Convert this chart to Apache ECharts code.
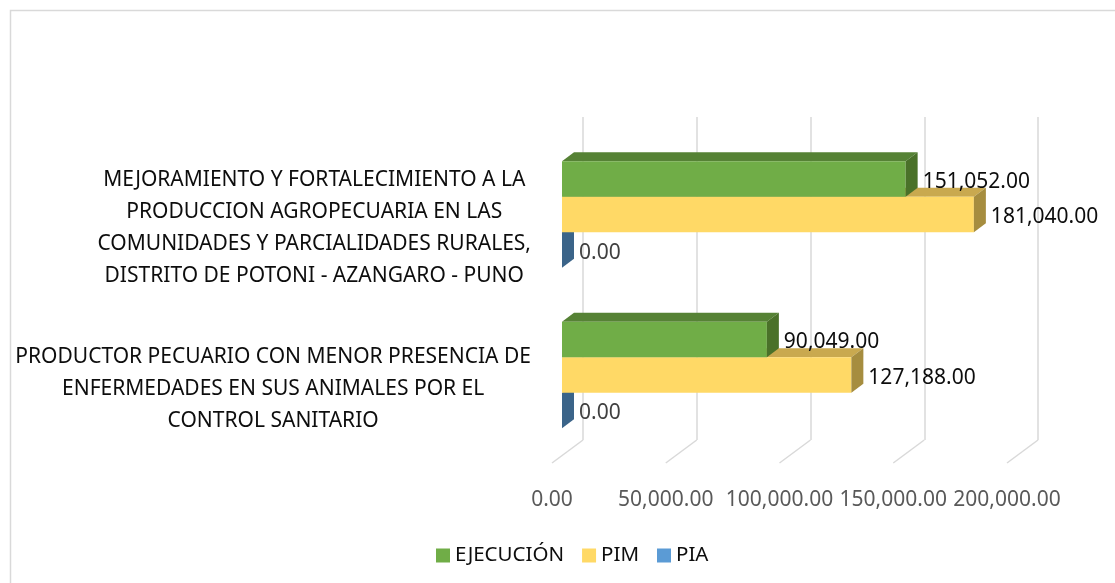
<!DOCTYPE html>
<html>
<head>
<meta charset="utf-8">
<script src="https://cdn.jsdelivr.net/npm/echarts@6/dist/echarts.min.js"></script>
<style>
  html, body { margin: 0; padding: 0; background: #fff; }
  #chart { width: 1115px; height: 583px; }
</style>
</head>
<body>
<div id="chart"></div>
<script>
// datos del grafico
const categories = [
  'MEJORAMIENTO Y FORTALECIMIENTO A LA\nPRODUCCION AGROPECUARIA EN LAS\nCOMUNIDADES Y PARCIALIDADES RURALES,\nDISTRITO DE POTONI - AZANGARO - PUNO',
  'PRODUCTOR PECUARIO CON MENOR PRESENCIA DE\nENFERMEDADES EN SUS ANIMALES POR EL\nCONTROL SANITARIO'
]
const ejecucion = [151052, 90049]
const pim = [181040, 127188]
const pia = [0, 0]
const xTicks = [0, 50000, 100000, 150000, 200000]

const FONT = 'Noto Sans'
const fmt = v => v.toLocaleString('en-US', { minimumFractionDigits: 2, maximumFractionDigits: 2 })

// barra 3D: cara frontal, superior y lateral
function bar3d(slot, colors, labelColor) {
  return function (params, api) {
    const cat = api.value(1)
    const val = api.value(0)
    const c0 = api.coord([0, cat])
    const c1 = api.coord([val, cat])
    const h = 35.5, dx = 12, dy = -9, shift = -21
    const x0 = c0[0] + shift
    const x1 = c1[0] + shift
    const y = c0[1] - h * 1.5 + slot * h
    const children = []
    if (x1 - x0 > 0.5) {
      children.push({
        type: 'polygon',
        shape: { points: [[x0, y], [x1, y], [x1 + dx, y + dy], [x0 + dx, y + dy]] },
        style: { fill: colors[1] }
      })
      children.push({
        type: 'rect',
        shape: { x: x0, y: y, width: x1 - x0, height: h },
        style: { fill: colors[0] }
      })
    }
    children.push({
      type: 'polygon',
      shape: { points: [[x1, y], [x1 + dx, y + dy], [x1 + dx, y + h + dy], [x1, y + h]] },
      style: { fill: colors[2] }
    })
    children.push({
      type: 'text',
      style: {
        x: x1 + dx + 5,
        y: y + h / 2 + 3,
        text: fmt(val),
        fill: labelColor,
        font: '21px "' + FONT + '"',
        textAlign: 'left',
        textVerticalAlign: 'middle'
      }
    })
    return { type: 'group', children: children }
  }
}

const chart = echarts.init(document.getElementById('chart'))

const option = {
  backgroundColor: '#fff',
  animation: false,
  textStyle: { fontFamily: FONT },
  graphic: [{
    type: 'rect',
    shape: { x: 10.5, y: 10.5, width: 1200, height: 700 },
    style: { fill: 'none', stroke: '#d9d9d9', lineWidth: 1.5 },
    silent: true
  }],
  legend: {
    data: ['EJECUCIÓN', 'PIM', 'PIA'],
    left: 431,
    top: 540,
    icon: 'rect',
    itemWidth: 14,
    itemHeight: 14,
    itemGap: 18,
    textStyle: { fontFamily: FONT, fontSize: 20.5, color: '#0d0d0d' }
  },
  grid: [
    { left: 583, width: 455, top: 117, height: 323 },
    { left: 583, width: 455, top: 134.25, height: 321 },
    { left: 552, width: 455, top: 147.7, height: 321.2 }
  ],
  xAxis: [
    {
      gridIndex: 0, type: 'value', min: 0, max: 200000, interval: 50000,
      axisLine: { show: false }, axisTick: { show: false }, axisLabel: { show: false },
      splitLine: { lineStyle: { color: '#d9d9d9', width: 1.5 } }
    },
    {
      gridIndex: 1, type: 'value', min: 0, max: 200000, interval: 50000, show: false
    },
    {
      gridIndex: 2, type: 'value', min: 0, max: 200000, interval: 50000,
      axisLine: { show: false }, axisTick: { show: false }, splitLine: { show: false },
      axisLabel: {
        margin: 21, fontSize: 21, fontFamily: FONT, color: '#595959',
        formatter: v => fmt(v)
      }
    }
  ],
  yAxis: [
    { gridIndex: 0, type: 'category', data: categories, inverse: true, show: false },
    { gridIndex: 1, type: 'category', data: categories, inverse: true, show: false },
    {
      gridIndex: 2, type: 'category', data: categories, inverse: true,
      axisLine: { show: false }, axisTick: { show: false }, splitLine: { show: false },
      axisLabel: {
        margin: 21,
        align: 'right',
        formatter: v => '{c|' + v + '}',
        rich: {
          c: { fontSize: 21, fontFamily: FONT, color: '#0d0d0d', lineHeight: 32, align: 'center' }
        }
      }
    }
  ],
  series: [
    {
      // piso del grafico
      type: 'custom',
      xAxisIndex: 0,
      yAxisIndex: 0,
      silent: true,
      z: 1,
      data: xTicks.map(v => [v, 0]),
      renderItem: function (params, api) {
        const cs = params.coordSys
        const p = api.coord([api.value(0), 0])
        const yb = cs.y + cs.height
        return {
          type: 'line',
          shape: { x1: p[0], y1: yb, x2: p[0] - 31, y2: yb + 23 },
          style: { stroke: '#d9d9d9', lineWidth: 1.5 }
        }
      }
    },
    {
      name: 'EJECUCIÓN',
      type: 'custom',
      xAxisIndex: 1,
      yAxisIndex: 1,
      z: 5,
      itemStyle: { color: '#70ad47' },
      data: ejecucion.map((v, i) => [v, i]),
      renderItem: bar3d(0, ['#70ad47', '#568235', '#4a7129'], '#0d0d0d')
    },
    {
      name: 'PIM',
      type: 'custom',
      xAxisIndex: 1,
      yAxisIndex: 1,
      z: 4,
      itemStyle: { color: '#ffd966' },
      data: pim.map((v, i) => [v, i]),
      renderItem: bar3d(1, ['#ffd966', '#c9a94f', '#a68d3f'], '#0d0d0d')
    },
    {
      name: 'PIA',
      type: 'custom',
      xAxisIndex: 1,
      yAxisIndex: 1,
      z: 3,
      itemStyle: { color: '#5b9bd5' },
      data: pia.map((v, i) => [v, i]),
      renderItem: bar3d(2, ['#5b9bd5', '#44739e', '#3b6489'], '#404040')
    }
  ]
}

chart.setOption(option)
</script>
</body>
</html>
